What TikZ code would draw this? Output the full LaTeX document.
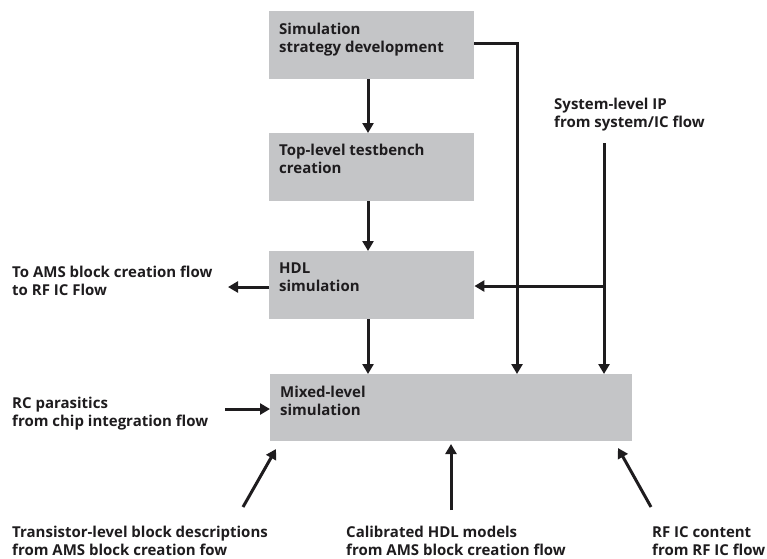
\documentclass[tikz,border=0pt]{standalone}
\usepackage{fontspec}
\setmainfont{Open Sans}
\usetikzlibrary{arrows.meta}
\definecolor{boxgrey}{RGB}{196,197,199}
\definecolor{ink}{RGB}{30,28,30}
\begin{document}
\begin{tikzpicture}[x=1pt,y=-1pt,
  box/.style={fill=boxgrey, draw=none, minimum width=205pt, minimum height=68pt, anchor=north west, inner sep=0pt},
  wide/.style={box, minimum width=362pt, minimum height=67pt},
  txt/.style={font=\fontsize{15}{18}\selectfont\bfseries, text=ink, align=left, anchor=base west, inner sep=0pt},
  conn/.style={draw=ink, line width=3pt},
  arr/.style={conn, -{Triangle[width=11pt,length=10pt]}}]
\useasboundingbox (0,0) rectangle (767,558);
% boxes
\node[box] (b1) at (269,11) {};
\node[box] (b2) at (269,133) {};
\node[box] (b3) at (269,251) {};
\node[wide] (b4) at (270,374) {};
% box texts (anchor = baseline of last line)
\node[txt] (t1) at ([shift={(10,41)}]b1.north west) {Simulation\\strategy development};
\node[txt] (t2) at ([shift={(10,40)}]b2.north west) {Top-level testbench\\creation};
\node[txt] (t3) at ([shift={(10,40)}]b3.north west) {HDL\\simulation};
\node[txt] (t4) at ([shift={(10,41)}]b4.north west) {Mixed-level\\simulation};
% side texts
\node[txt] (sys) at (554,127) {System-level IP\\from system/IC flow};
\node[txt] (ams) at (12,295) {To AMS block creation flow\\to RF IC Flow};
\node[txt] (rc) at (12,426) {RC parasitics\\from chip integration flow};
\node[txt] (tr) at (12,555) {Transistor-level block descriptions\\from AMS block creation fow};
\node[txt] (cal) at (346,555) {Calibrated HDL models\\from AMS block creation flow};
\node[txt] (rf) at (652,555) {RF IC content\\from RF IC flow};
% coordinates
\coordinate (c1) at (517,43);
\coordinate (c2) at (604,143);
\coordinate (c3) at (604,286);
\coordinate (c4) at (228,287);
\coordinate (c5) at (225,409);
\coordinate (c6) at (243,507);
\coordinate (c7) at (276,449);
\coordinate (c8) at (451,510);
\coordinate (c9) at (451,444);
\coordinate (c10) at (651,507);
\coordinate (c11) at (618,448);
% connectors
\draw[arr] (b1.south -| 368,0) -- (b2.north -| 368,0);
\draw[arr] (b2.south -| 368,0) -- (b3.north -| 368,0);
\draw[arr] (b3.south -| 368,0) -- (b4.north -| 368,0);
\draw[arr] (b1.east |- c1) -- (c1) -- (c1 |- b4.north);
\draw[arr] (c2) -- (c2 |- b4.north);
\draw[arr] (c3) -- (c3 -| b3.east);
\draw[arr] (b3.west |- c4) -- (c4);
\draw[arr] (c5) -- (c5 -| b4.west);
\draw[arr] (c6) -- (c7);
\draw[arr] (c8) -- (c9);
\draw[arr] (c10) -- (c11);
\end{tikzpicture}
\end{document}
